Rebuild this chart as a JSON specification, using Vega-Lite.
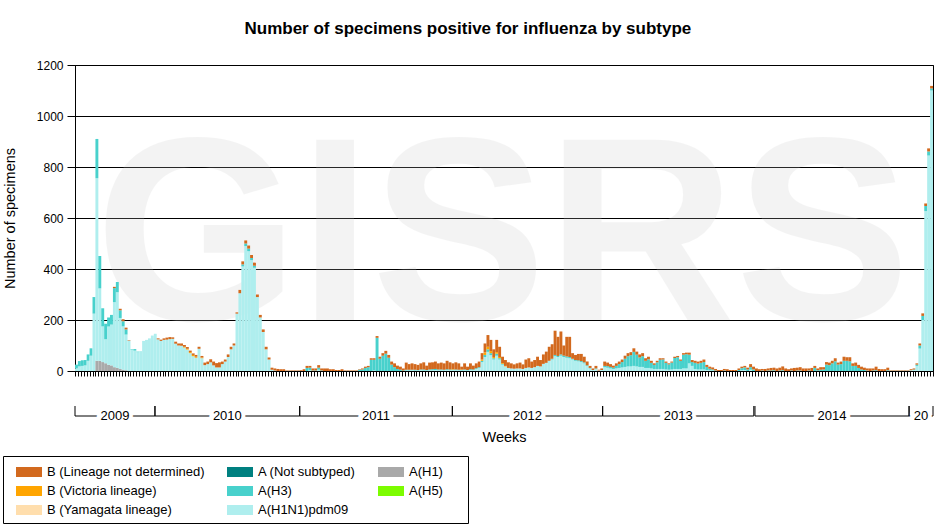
{
  "$schema": "https://vega.github.io/schema/vega-lite/v6.json",
  "background": "white",
  "padding": {"left": 1, "top": 19, "right": 1, "bottom": 5},
  "title": {
    "text": "Number of specimens positive for influenza by subtype",
    "fontSize": 17,
    "fontWeight": "bold",
    "color": "black",
    "anchor": "middle",
    "frame": "bounds",
    "offset": 21
  },
  "datasets": {
    "flu": [
      {"w":0,"pdm":10,"H3":15},{"w":1,"pdm":18,"H3":21},{"w":2,"pdm":20,"H3":22},{"w":3,"pdm":22,"H3":21},
      {"w":4,"pdm":40,"H3":25},{"w":5,"pdm":60,"H3":29},{"w":6,"pdm":225,"H3":65},
      {"w":7,"H1":40,"pdm":716,"H3":154},{"w":8,"H1":40,"pdm":284,"H3":127},{"w":9,"H1":35,"pdm":140,"H3":71},
      {"w":10,"H1":30,"pdm":95,"H3":60},{"w":11,"H1":25,"pdm":150,"H3":35},{"w":12,"H1":22,"pdm":160,"H3":38},
      {"w":13,"H1":15,"pdm":255,"H3":55,"BL":5},{"w":14,"H1":12,"pdm":297,"H3":40},
      {"w":15,"H1":8,"pdm":200,"H3":30,"BL":6},{"w":16,"H1":5,"pdm":170,"H3":20,"BL":8},
      {"w":17,"H1":3,"pdm":140,"H3":20,"BL":7},{"w":18,"pdm":120,"BL":2},{"w":19,"pdm":84,"H3":2},
      {"w":20,"pdm":80,"H3":6},{"w":21,"pdm":74,"H3":2},{"w":22,"pdm":78},{"w":23,"pdm":118},
      {"w":24,"pdm":122},{"w":25,"pdm":128},{"w":26,"pdm":139},{"w":27,"pdm":146},
      {"w":28,"pdm":124,"BL":4},{"w":29,"pdm":118,"BL":5},{"w":30,"pdm":122,"BL":6},{"w":31,"pdm":123,"BL":8},
      {"w":32,"pdm":125,"BL":8},{"w":33,"pdm":126,"BL":6},{"w":34,"pdm":107,"BL":8},{"w":35,"pdm":100,"BL":8},
      {"w":36,"pdm":99,"BL":9},{"w":37,"pdm":92,"BV":3,"BL":7},{"w":38,"pdm":84,"BV":3,"BL":7},
      {"w":39,"pdm":70,"BV":4,"BL":6},{"w":40,"pdm":58,"BV":5,"BL":6},{"w":41,"pdm":52,"BV":4,"BL":7},
      {"w":42,"pdm":87,"BL":8},{"w":43,"pdm":50,"BV":3,"BL":6},{"w":44,"pdm":23,"BL":10},
      {"w":45,"pdm":27,"BL":10},{"w":46,"pdm":34,"BL":12},{"w":47,"pdm":22,"BL":15},{"w":48,"pdm":14,"BL":17},
      {"w":49,"pdm":14,"BL":20},{"w":50,"pdm":27,"BL":10},{"w":51,"pdm":37,"BL":8},{"w":52,"pdm":55,"BL":10},
      {"w":53,"pdm":85,"BL":10},{"w":54,"pdm":100,"BL":8},{"w":55,"pdm":225,"BL":5},{"w":56,"pdm":305,"BL":13},
      {"w":57,"pdm":410,"H3":8,"BL":12},{"w":58,"pdm":490,"H3":10,"BL":12},{"w":59,"pdm":470,"H3":10,"BL":12},
      {"w":60,"pdm":435,"H3":8,"BL":12},{"w":61,"pdm":405,"H3":8,"BL":12},{"w":62,"pdm":290,"BL":10},
      {"w":63,"pdm":210,"BL":10},{"w":64,"pdm":153,"BL":10},{"w":65,"pdm":85,"BL":10},{"w":66,"pdm":45,"BL":8},
      {"w":67,"pdm":5,"BL":8},{"w":68,"pdm":2,"BL":8},{"w":69,"BL":8},{"w":70,"BL":7},{"w":71,"BL":7},
      {"w":72,"pdm":1,"BL":2},{"w":73,"pdm":1,"BL":2},{"w":74,"pdm":1,"BL":2},{"w":75,"pdm":1,"BL":2},
      {"w":76,"pdm":1,"BL":2},{"w":77,"pdm":1,"BL":3},{"w":78,"BL":7},{"w":79,"H3":12,"BL":8},
      {"w":80,"pdm":3,"H3":10,"BL":7},{"w":81,"H3":2,"BL":8},{"w":82,"H3":2,"BL":8},
      {"w":83,"pdm":5,"H3":8,"BL":10},{"w":84,"H3":2,"BL":8},{"w":85,"BL":10},{"w":86,"BL":10},
      {"w":87,"BL":7},{"w":88,"BL":7},{"w":89,"BL":4},{"w":90,"BL":4},{"w":91,"BL":7},
      {"w":92,"pdm":1,"BL":2},{"w":93,"pdm":1,"BL":2},{"w":94,"pdm":1,"BL":2},{"w":95,"pdm":1,"BL":2},
      {"w":96,"pdm":1,"BL":2},{"w":97,"H3":5,"BL":2},{"w":98,"H3":6,"BL":4},{"w":99,"H3":12,"BL":5},
      {"w":100,"H3":15,"BL":5},{"w":101,"H3":44,"BL":6},{"w":102,"pdm":2,"H3":42,"BL":6},
      {"w":103,"H3":130,"BL":7},{"w":104,"H3":48,"BL":8},{"w":105,"H3":60,"BL":10},{"w":106,"H3":68,"BL":11},
      {"w":107,"H3":52,"BL":11},{"w":108,"H3":25,"BL":12},{"w":109,"H3":15,"BL":15},{"w":110,"H3":8,"BL":13},
      {"w":111,"H3":5,"BL":12},{"w":112,"H3":2,"BL":8},
      {"w":113,"pdm":2,"H3":3,"BL":28},{"w":114,"pdm":2,"H3":3,"BL":22},{"w":115,"pdm":3,"H3":2,"BL":25},
      {"w":116,"pdm":2,"H3":3,"BL":22},{"w":117,"pdm":2,"H3":2,"BL":20},{"w":118,"pdm":3,"H3":3,"BL":24},
      {"w":119,"pdm":2,"H3":4,"BL":28},{"w":120,"pdm":2,"H3":2,"BL":17},{"w":121,"pdm":3,"H3":3,"BL":27},
      {"w":122,"pdm":3,"H3":4,"BL":27},{"w":123,"pdm":4,"H3":4,"BL":29},{"w":124,"pdm":3,"H3":3,"BL":24},
      {"w":125,"pdm":3,"H3":3,"BL":27},{"w":126,"pdm":3,"H3":2,"BL":25},{"w":127,"pdm":4,"H3":3,"BL":33},
      {"w":128,"pdm":3,"H3":3,"BL":28},{"w":129,"pdm":3,"H3":2,"BV":2,"BL":23},{"w":130,"pdm":3,"H3":3,"BL":28},
      {"w":131,"pdm":3,"H3":2,"BL":25},{"w":132,"pdm":2,"H3":2,"BV":2,"BL":11},{"w":133,"pdm":3,"H3":3,"BL":24},
      {"w":134,"pdm":2,"H3":2,"BL":13},{"w":135,"pdm":4,"H3":3,"BL":23},{"w":136,"pdm":4,"H3":2,"BL":15},
      {"w":137,"pdm":8,"H3":3,"BL":19},{"w":138,"pdm":12,"H3":3,"BL":22},
      {"w":139,"pdm":35,"H3":5,"BV":5,"BL":25},{"w":140,"pdm":55,"H3":8,"BV":10,"BL":35},
      {"w":141,"pdm":75,"H3":10,"BV":10,"BL":46},{"w":142,"pdm":62,"H3":8,"BV":8,"BL":44},
      {"w":143,"pdm":45,"H3":5,"BV":5,"BL":30},{"w":144,"pdm":60,"H3":8,"BV":6,"BL":48},
      {"w":145,"pdm":45,"H3":5,"BV":5,"BL":40},{"w":146,"pdm":25,"H3":3,"BV":3,"BL":25},
      {"w":147,"pdm":18,"BV":2,"BL":23},{"w":148,"pdm":12,"BL":22},{"w":149,"pdm":10,"BL":20},
      {"w":150,"pdm":9,"BL":17},{"w":151,"pdm":10,"BL":20},{"w":152,"pdm":10,"BL":23},{"w":153,"pdm":8,"BL":18},
      {"w":154,"pdm":12,"BL":33},{"w":155,"pdm":14,"BL":36},{"w":156,"pdm":12,"BL":25},{"w":157,"pdm":15,"BL":28},
      {"w":158,"pdm":20,"BL":36},{"w":159,"pdm":18,"BL":25},{"w":160,"pdm":28,"BL":37},{"w":161,"pdm":32,"BL":44},
      {"w":162,"pdm":40,"BL":55},{"w":163,"pdm":45,"H3":3,"BL":57},{"w":164,"pdm":58,"H3":5,"BL":95},
      {"w":165,"pdm":55,"H3":4,"BL":75},{"w":166,"pdm":60,"H3":5,"BL":90},{"w":167,"pdm":55,"H3":5,"BL":40},
      {"w":168,"pdm":52,"H3":5,"BL":77},{"w":169,"pdm":50,"H3":5,"BL":79},{"w":170,"pdm":45,"H3":3,"BL":22},
      {"w":171,"pdm":40,"H3":3,"BL":20},{"w":172,"pdm":38,"H3":4,"BL":25},{"w":173,"pdm":35,"H3":4,"BL":28},
      {"w":174,"pdm":30,"H3":4,"BL":22},{"w":175,"pdm":20,"H3":3,"BL":14},{"w":176,"pdm":10,"H3":2,"BL":8},
      {"w":177,"pdm":4,"BL":6},{"w":178,"pdm":8,"H3":2,"BL":10},{"w":179,"pdm":2,"BL":3},{"w":180,"pdm":4,"BL":6},
      {"w":181,"pdm":15,"H3":5,"BL":17},{"w":182,"pdm":13,"H3":6,"BL":14},{"w":183,"pdm":10,"H3":6,"BL":11},
      {"w":184,"pdm":8,"H3":5,"BL":8},{"w":185,"pdm":10,"H3":10,"BL":10},{"w":186,"pdm":12,"H3":15,"BL":10},
      {"w":187,"pdm":14,"H3":21,"BL":10},{"w":188,"pdm":16,"H3":32,"BL":12},{"w":189,"pdm":18,"H3":40,"BL":12},
      {"w":190,"pdm":18,"H3":44,"BL":12},{"w":191,"pdm":20,"H3":55,"BL":14},{"w":192,"pdm":18,"H3":46,"BL":12},
      {"w":193,"pdm":16,"H3":37,"BL":12},{"w":194,"pdm":16,"H3":42,"BL":12},{"w":195,"pdm":12,"H3":28,"BL":10},
      {"w":196,"pdm":12,"H3":34,"BL":10},{"w":197,"pdm":10,"H3":22,"BL":8},{"w":198,"pdm":8,"H3":16,"BL":6},
      {"w":199,"pdm":8,"H3":26,"BL":6},{"w":200,"pdm":8,"H3":36,"BL":6},{"w":201,"pdm":8,"H3":37,"BL":5},
      {"w":202,"pdm":6,"H3":26,"BL":5},{"w":203,"pdm":5,"H3":21,"BL":4},{"w":204,"pdm":6,"H3":27,"BL":4},
      {"w":205,"pdm":8,"H3":43,"BL":5},{"w":206,"pdm":8,"H3":46,"BL":5},{"w":207,"pdm":8,"H3":32,"BL":5},
      {"w":208,"pdm":10,"H3":54,"BL":6},{"w":209,"pdm":10,"H3":56,"BL":6},{"w":210,"pdm":30,"H3":34,"BL":8},
      {"w":211,"pdm":20,"H3":15,"BL":8},{"w":212,"pdm":8,"H3":24,"BL":8},{"w":213,"pdm":6,"H3":23,"BL":8},
      {"w":214,"pdm":6,"H3":26,"BL":8},{"w":215,"pdm":6,"H3":29,"BL":10},{"w":216,"pdm":4,"H3":12,"BL":8},
      {"w":217,"pdm":3,"H3":6,"BL":8},{"w":218,"pdm":2,"H3":4,"BL":8},{"w":219,"H3":2,"BL":6},
      {"w":220,"BL":4},{"w":221,"BL":4},{"w":222,"H3":2,"BL":6},{"w":223,"BL":7},{"w":224,"BL":4},
      {"w":225,"BL":4},{"w":226,"BL":4},{"w":227,"H3":4,"BL":6},{"w":228,"pdm":3,"H3":8,"BL":6},
      {"w":229,"pdm":4,"H3":10,"BL":6},{"w":230,"H3":6,"BL":7},{"w":231,"pdm":5,"H3":10,"BL":12},
      {"w":232,"H3":6,"BL":11},{"w":233,"BL":10},{"w":234,"BL":7},{"w":235,"H3":2,"BL":6},{"w":236,"BL":8},
      {"w":237,"H3":2,"BL":8},{"w":238,"H3":2,"BL":10},{"w":239,"H3":3,"BL":10},{"w":240,"BL":10},
      {"w":241,"H3":2,"BL":11},{"w":242,"H3":3,"BL":15},{"w":243,"BL":10},{"w":244,"BL":7},
      {"w":245,"H3":2,"BL":8},{"w":246,"BL":12},{"w":247,"H3":2,"BL":11},{"w":248,"H3":2,"BL":13},
      {"w":249,"BL":10},{"w":250,"BL":10},{"w":251,"H3":2,"BL":8},{"w":252,"BL":12},{"w":253,"H3":12,"BL":8},
      {"w":254,"H3":3,"BL":7},{"w":255,"H3":5,"BL":10},{"w":256,"H3":6,"BL":9},{"w":257,"H3":25,"BL":10},
      {"w":258,"H3":23,"BL":10},{"w":259,"H3":30,"BL":10},{"w":260,"H3":38,"BL":12},{"w":261,"H3":25,"BL":8},
      {"w":262,"H3":27,"BL":10},{"w":263,"H3":40,"BL":16},{"w":264,"H3":40,"BL":14},{"w":265,"H3":38,"BL":16},
      {"w":266,"H3":20,"BL":10},{"w":267,"H3":20,"BL":13},{"w":268,"H3":12,"BL":12},{"w":269,"H3":6,"BL":11},
      {"w":270,"H3":4,"BL":9},{"w":271,"H3":2,"BL":8},{"w":272,"BL":10},{"w":273,"H3":2,"BL":8},
      {"w":274,"H3":3,"BL":14},{"w":275,"BL":8},{"w":276,"BL":7},{"w":277,"BL":7},{"w":278,"H3":3,"BL":10},
      {"w":279,"pdm":2,"BL":2},{"w":280,"pdm":2,"BL":2},{"w":281,"pdm":2,"BL":2},{"w":282,"pdm":2,"BL":2},
      {"w":283,"pdm":2,"BL":2},{"w":284,"pdm":2,"BL":2},{"w":285,"pdm":2,"BL":2},{"w":286,"pdm":3,"BL":4},
      {"w":287,"pdm":4,"H3":2,"BL":4},{"w":288,"pdm":20,"H3":5,"BL":5},{"w":289,"pdm":88,"H3":12,"BL":8},
      {"w":290,"pdm":200,"H3":16,"BL":10},{"w":291,"pdm":627,"H3":20,"BL":10},{"w":292,"pdm":845,"H3":16,"BL":12},
      {"w":293,"pdm":1100,"H3":8,"BL":10}
    ],
    "years": [
      {"year":"2009","s":0,"e":27.4},
      {"year":"2010","s":27.4,"e":77},
      {"year":"2011","s":77,"e":129.3},
      {"year":"2012","s":129.3,"e":180.8},
      {"year":"2013","s":180.8,"e":232.6},
      {"year":"2014","s":233.0,"e":285.8},
      {"year":"20","s":285.8,"e":294}
    ],
    "mark": [{"t": "GISRS"}]
  },
  "resolve": {"scale": {"color": "shared"}, "legend": {"color": "shared"}},
  "spacing": 27,
  "vconcat": [
    {
      "width": 858,
      "height": 306,
      "view": {"stroke": "black", "strokeWidth": 1},
      "layer": [
        {
          "data": {"name": "mark"},
          "mark": {"type": "text", "font": "Liberation Sans", "fontWeight": "bold", "fontSize": 262, "color": "#c8c8c8", "opacity": 0.2, "baseline": "alphabetic", "align": "center", "clip": true},
          "encoding": {
            "text": {"field": "t"},
            "x": {"datum": 146, "type": "ordinal"},
            "y": {"datum": 200, "type": "quantitative"}
          }
        },
        {
          "data": {"name": "flu"},
          "transform": [
            {"fold": ["H1", "pdm", "H3", "BV", "BL"], "as": ["s", "v"]},
            {"filter": "isValid(datum.v)"},
            {"calculate": "indexof(['H1','pdm','H3','NS','BY','BV','BL'], datum.s)", "as": "o"}
          ],
          "mark": {"type": "bar"},
          "encoding": {
            "x": {
              "field": "w",
              "type": "ordinal",
              "scale": {"paddingInner": 0, "paddingOuter": 0},
              "axis": {"labels": false, "ticks": true, "tickBand": "extent", "tickSize": 5, "tickColor": "black", "domainColor": "black", "title": null, "grid": false}
            },
            "y": {
              "field": "v",
              "type": "quantitative",
              "stack": "zero",
              "scale": {"domain": [0, 1200], "nice": false},
              "axis": {
                "title": "Number of specimens",
                "values": [0, 200, 400, 600, 800, 1000, 1200],
                "format": "d",
                "grid": true, "gridColor": "black", "gridOpacity": 1,
                "tickColor": "black", "tickSize": 8, "domainColor": "black",
                "labelColor": "black", "labelFontSize": 12, "labelPadding": 4,
                "titleFontSize": 14.5, "titleFontWeight": "normal", "titleColor": "black", "titlePadding": 19
              }
            },
            "color": {
              "field": "s",
              "type": "nominal",
              "scale": {
                "domain": ["BL", "BV", "BY", "NS", "H3", "pdm", "H1", "H5"],
                "range": ["#D2691E", "#FFA500", "#FFDEAD", "#008080", "#48D1CC", "#AFEEEE", "#A9A9A9", "#7CFC00"]
              },
              "legend": {
                "orient": "none",
                "legendX": -72,
                "legendY": 391,
                "title": null,
                "columns": 3,
                "symbolType": "M-0.3,-0.5H2.3V0.5H-0.3Z",
                "symbolSize": 400,
                "symbolStrokeWidth": 0,
                "labelFontSize": 13,
                "labelColor": "black",
                "labelOffset": 18,
                "strokeColor": "black",
                "fillColor": "white",
                "padding": 6,
                "rowPadding": 2,
                "columnPadding": 15,
                "labelExpr": "datum.label == 'BL' ? 'B (Lineage not determined)' : datum.label == 'BV' ? 'B (Victoria lineage)' : datum.label == 'BY' ? 'B (Yamagata lineage)' : datum.label == 'NS' ? 'A (Not subtyped)' : datum.label == 'H3' ? 'A(H3)' : datum.label == 'pdm' ? 'A(H1N1)pdm09' : datum.label == 'H1' ? 'A(H1)\u00a0\u00a0\u00a0\u00a0\u00a0\u200b' : 'A(H5)\u00a0\u00a0\u00a0\u00a0\u00a0\u200b'"
              }
            },
            "order": {"field": "o", "type": "quantitative"}
          }
        }
      ]
    },
    {
      "width": 858,
      "height": 10,
      "view": {"stroke": null},
      "data": {"name": "years"},
      "transform": [{"calculate": "(datum.s + datum.e) / 2", "as": "m"}],
      "layer": [
        {
          "mark": {"type": "rule", "color": "black"},
          "encoding": {
            "x": {
              "field": "s", "type": "quantitative", "title": "Weeks",
              "scale": {"domain": [0, 294], "nice": false, "zero": false},
              "axis": {"domain": false, "ticks": false, "labels": false, "grid": false, "titleFontSize": 14.5, "titleFontWeight": "normal", "titleColor": "black", "titlePadding": 14}
            },
            "x2": {"field": "e"},
            "y": {"datum": 0, "type": "quantitative", "scale": {"domain": [0, 1]}, "axis": null}
          }
        },
        {
          "mark": {"type": "rule", "color": "black"},
          "encoding": {
            "x": {"field": "s", "type": "quantitative", "title": "Weeks"},
            "y": {"datum": 0, "type": "quantitative"},
            "y2": {"datum": 1}
          }
        },
        {
          "mark": {"type": "rule", "color": "black"},
          "encoding": {
            "x": {"field": "e", "type": "quantitative", "title": "Weeks"},
            "y": {"datum": 0, "type": "quantitative"},
            "y2": {"datum": 1}
          }
        },
        {
          "mark": {"type": "text", "fontSize": 13, "fill": "white", "stroke": "white", "strokeWidth": 8, "baseline": "middle"},
          "encoding": {
            "x": {"field": "m", "type": "quantitative", "title": "Weeks"},
            "y": {"datum": 0, "type": "quantitative"},
            "text": {"field": "year"}
          }
        },
        {
          "mark": {"type": "text", "fontSize": 13, "color": "black", "baseline": "middle"},
          "encoding": {
            "x": {"field": "m", "type": "quantitative", "title": "Weeks"},
            "y": {"datum": 0, "type": "quantitative"},
            "text": {"field": "year"}
          }
        }
      ]
    }
  ],
  "config": {
    "font": "Liberation Sans",
    "view": {"stroke": "black"}
  }
}
